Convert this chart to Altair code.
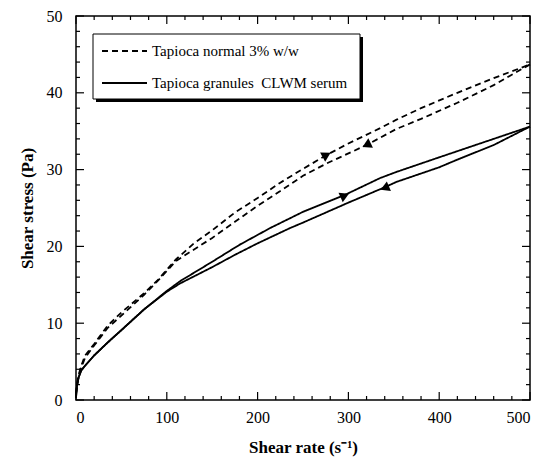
import altair as alt
import pandas as pd

# ---- data ----
normal_up_x = [0, 2, 5, 10, 20, 35, 50, 75, 90, 110, 130, 150, 175, 200, 225, 250, 276, 300, 335, 353, 380, 420, 460, 500]
normal_up_y = [0.8, 2.8, 4.2, 5.8, 7.3, 9.7, 11.4, 13.9, 15.6, 18.3, 20.4, 22.1, 24.4, 26.3, 28.3, 30.1, 31.9, 33.4, 35.4, 36.5, 38.0, 40.0, 41.9, 43.7]
normal_down_x = [500, 460, 420, 380, 353, 320, 276, 250, 225, 200, 175, 150, 130, 110, 90, 75, 50, 35, 20, 10, 5, 2, 0]
normal_down_y = [43.7, 41.0, 38.7, 36.6, 35.3, 33.2, 30.8, 29.2, 27.2, 25.3, 23.2, 21.1, 19.6, 18.1, 15.5, 13.7, 11.0, 9.4, 7.1, 5.5, 4.0, 2.6, 0.8]

clwm_up_x = [0, 1, 3, 6, 11, 20, 35, 50, 75, 100, 115, 150, 180, 214, 250, 296, 335, 353, 400, 420, 460, 500]
clwm_up_y = [0.3, 1.8, 3.0, 3.9, 4.6, 5.8, 7.5, 9.1, 11.8, 14.2, 15.5, 18.0, 20.2, 22.4, 24.5, 26.7, 28.9, 29.7, 31.6, 32.4, 34.0, 35.6]
clwm_down_x = [500, 460, 420, 400, 353, 340, 300, 250, 236, 200, 175, 150, 130, 115, 100, 75, 50, 35, 20, 11, 6, 3, 1, 0]
clwm_down_y = [35.6, 33.2, 31.3, 30.3, 28.4, 27.7, 25.7, 23.1, 22.4, 20.4, 18.9, 17.3, 16.1, 15.2, 14.1, 11.8, 9.1, 7.5, 5.8, 4.6, 3.9, 3.0, 1.8, 0.3]

series_names = ["Tapioca normal 3% w/w", "Tapioca granules\u00a0 CLWM serum"]

# arrow heads: x, y, shape, rotation
arrow_x = [276, 320, 296, 340]
arrow_y = [31.9, 33.2, 26.6, 27.6]
arrow_shape = ["triangle-right", "triangle-left", "triangle-right", "triangle-left"]
arrow_angle = [331, 334, 336, 337]

x_major = [0, 100, 200, 300, 400, 500]
x_minor = [v for v in range(0, 501, 20) if v % 100 != 0]
y_major = [0, 10, 20, 30, 40, 50]
y_minor = [v for v in range(0, 51, 2) if v % 10 != 0]

W, H = 454, 384
X_MAX, Y_MAX = 500, 50
FONT = "Liberation Serif"

# ---- build tables ----
rows = []
for name, branch, xs, ys in [
    (series_names[0], "up", normal_up_x, normal_up_y),
    (series_names[0], "down", normal_down_x, normal_down_y),
    (series_names[1], "up", clwm_up_x, clwm_up_y),
    (series_names[1], "down", clwm_down_x, clwm_down_y),
]:
    for i, (a, b) in enumerate(zip(xs, ys)):
        rows.append({"series": name, "branch": branch, "i": i, "rate": a, "stress": b})
df = pd.DataFrame(rows)
arrows = pd.DataFrame({"rate": arrow_x, "stress": arrow_y, "shape": arrow_shape, "angle": arrow_angle})

# inward tick segments on all four sides (lengths converted from pixels to data units)
px_x = X_MAX / W
px_y = Y_MAX / H
seg = []
for vals, L in [(x_major, 8), (x_minor, 4)]:
    for v in vals:
        seg.append({"x0": float(v), "x1": float(v), "y0": 0.0, "y1": L * px_y})
        seg.append({"x0": float(v), "x1": float(v), "y0": float(Y_MAX), "y1": Y_MAX - L * px_y})
for vals, L in [(y_major, 8), (y_minor, 4)]:
    for v in vals:
        seg.append({"x0": 0.0, "x1": L * px_x, "y0": float(v), "y1": float(v)})
        seg.append({"x0": float(X_MAX), "x1": X_MAX - L * px_x, "y0": float(v), "y1": float(v)})
ticks_df = pd.DataFrame(seg)

xscale = alt.Scale(domain=[0, X_MAX], nice=False, zero=True)
yscale = alt.Scale(domain=[0, Y_MAX], nice=False, zero=True)

lines = alt.Chart(df).mark_line(color="black", strokeWidth=1.8).encode(
    x=alt.X("rate:Q", scale=xscale,
            axis=alt.Axis(values=x_major, format="d", ticks=False, domain=False, grid=False,
                          labelFont=FONT, labelFontSize=16, labelColor="black", labelPadding=9,
                          title="Shear rate (s\u207b\u00b9)", titleFont=FONT, titleFontSize=17,
                          titleFontWeight="bold", titleColor="black", titlePadding=14)),
    y=alt.Y("stress:Q", scale=yscale,
            axis=alt.Axis(values=y_major, format="d", ticks=False, domain=False, grid=False,
                          labelFont=FONT, labelFontSize=16, labelColor="black", labelPadding=14,
                          title="Shear stress (Pa)", titleFont=FONT, titleFontSize=17,
                          titleFontWeight="bold", titleColor="black", titlePadding=10)),
    strokeDash=alt.StrokeDash("series:N", scale=alt.Scale(domain=series_names, range=[[6, 4], [1, 0]]), legend=None),
    detail="branch:N",
    order="i:Q",
)

tick_layer = alt.Chart(ticks_df).mark_rule(color="black", strokeWidth=1.2).encode(
    x=alt.X("x0:Q", scale=xscale), x2=alt.X2("x1:Q"),
    y=alt.Y("y0:Q", scale=yscale), y2=alt.Y2("y1:Q"),
)

arrow_layers = []
for s in ["triangle-right", "triangle-left"]:
    arrow_layers.append(
        alt.Chart(arrows[arrows["shape"] == s]).mark_point(shape=s, filled=True, color="black", size=110, opacity=1).encode(
            x=alt.X("rate:Q", scale=xscale), y=alt.Y("stress:Q", scale=yscale), angle=alt.Angle("angle:Q", scale=None)
        )
    )

# legend box with shadow
leg = pd.DataFrame({"label": series_names})
base_leg = alt.Chart(leg.iloc[:1])
shadow = base_leg.mark_rect(color="black").encode(
    x=alt.value(20), x2=alt.value(287), y=alt.value(21), y2=alt.value(86))
box = base_leg.mark_rect(fill="white", stroke="black", strokeWidth=1).encode(
    x=alt.value(17), x2=alt.value(284), y=alt.value(18), y2=alt.value(83))
leg_line1 = alt.Chart(leg.iloc[[0]]).mark_rule(color="black", strokeWidth=1.8, strokeDash=[6, 4]).encode(
    x=alt.value(26), x2=alt.value(71), y=alt.value(35))
leg_line2 = alt.Chart(leg.iloc[[1]]).mark_rule(color="black", strokeWidth=1.8).encode(
    x=alt.value(26), x2=alt.value(71), y=alt.value(67))
leg_text1 = alt.Chart(leg.iloc[[0]]).mark_text(align="left", baseline="middle", font=FONT, fontSize=15, color="black").encode(
    x=alt.value(76), y=alt.value(35), text="label:N")
leg_text2 = alt.Chart(leg.iloc[[1]]).mark_text(align="left", baseline="middle", font=FONT, fontSize=15, color="black").encode(
    x=alt.value(76), y=alt.value(67), text="label:N")

chart = alt.layer(
    lines, tick_layer, *arrow_layers, shadow, box, leg_line1, leg_line2, leg_text1, leg_text2
).properties(
    width=W, height=H,
    autosize=alt.AutoSizeParams(type="none"),
    padding={"left": 76, "top": 16, "right": 15, "bottom": 66},
    background="white",
).configure_view(stroke="black", strokeWidth=1.5)

chart.save("out.html", embed_options={"renderer": "svg", "actions": False})
